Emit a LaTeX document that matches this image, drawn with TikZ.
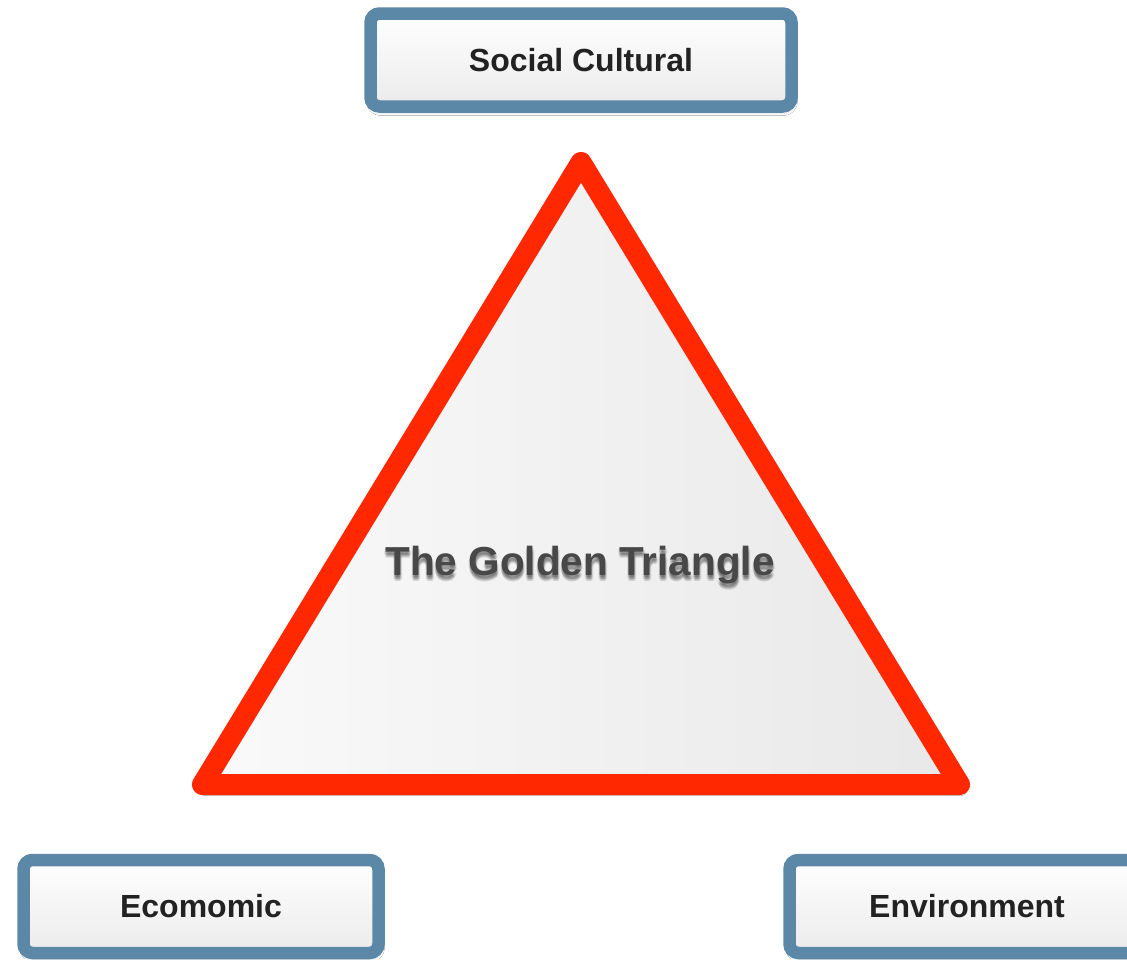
\documentclass[tikz,border=0pt]{standalone}
\usepackage{fontspec}
\setmainfont{Liberation Sans}
\usetikzlibrary{shadows.blur}
\definecolor{boxblue}{RGB}{91,136,166}
\definecolor{trired}{RGB}{255,40,0}
\definecolor{boxtext}{RGB}{34,34,34}
\definecolor{titlegrey}{RGB}{72,72,72}
\begin{document}
\begin{tikzpicture}[x=1pt,y=-1pt,
  factor/.style={draw=boxblue, line width=12.5pt, rounded corners=9pt,
    top color=white, bottom color=black!8, minimum height=93pt, inner sep=0pt,
    font=\fontsize{32}{37}\selectfont\bfseries, text=boxtext,
    blur shadow={shadow xshift=1pt, shadow yshift=-4pt, shadow blur radius=5pt, shadow opacity=30}},
  titletext/.style={font=\fontsize{40.5}{48}\selectfont\bfseries, anchor=base},
]
\useasboundingbox (0,0) rectangle (1127,959);
\fill[white] (0,0) rectangle (1127,959);

% the triangle
\coordinate (apex) at (581,162.5);
\coordinate (left) at (202.5,784.5);
\coordinate (right) at (959.5,784.5);
\path[draw=trired, line width=21pt, line join=round,
  left color=black!2, right color=black!9,
  blur shadow={shadow xshift=2pt, shadow yshift=-5pt, shadow blur radius=6pt, shadow opacity=30}]
  (apex) -- (left) -- (right) -- cycle;

% title with a soft drop shadow
\foreach \dx/\dy in {0/3, 1/4, -1/4, 0/5, 2/4, 1/2, -1/2, 0/6, 1/6}
  \node[titletext, text=black, opacity=0.07] at (580+\dx,575+\dy) {The Golden Triangle};
\node[titletext, text=titlegrey] (title) at (580,575) {The Golden Triangle};

% the three factors
\node[factor, minimum width=421pt] (social) at (581,60) {Social Cultural};
\node[factor, minimum width=355pt] (econ) at (201,906.5) {Ecomomic};
\node[factor, minimum width=355pt] (env) at (967,906.5) {Environment};
\end{tikzpicture}
\end{document}
